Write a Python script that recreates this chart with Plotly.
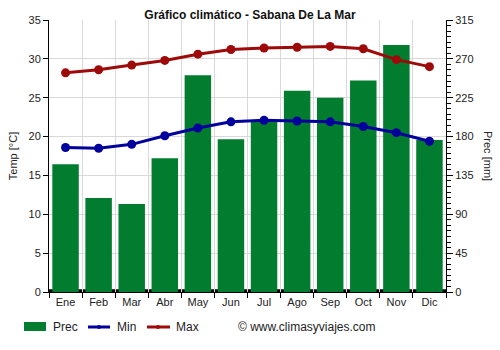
import plotly.graph_objects as go

months = ["Ene", "Feb", "Mar", "Abr", "May", "Jun", "Jul", "Ago", "Sep", "Oct", "Nov", "Dic"]
prec_mm = [148, 109, 102, 155, 251, 177, 198, 233, 225, 245, 286, 176]
temp_min = [18.6, 18.5, 19.0, 20.1, 21.1, 21.9, 22.1, 22.0, 21.9, 21.3, 20.5, 19.4]
temp_max = [28.2, 28.6, 29.2, 29.8, 30.6, 31.2, 31.4, 31.5, 31.6, 31.3, 29.9, 29.0]

GREEN = "#027D30"
BLUE = "#00009C"
RED = "#9E0A0A"
FONT = "Liberation Sans, Arial, sans-serif"

# plot area in pixels (500x350 canvas)
L, R, T, B = 49, 446, 20, 292
W, H = R - L, B - T


def px(x):
    return (x - L) / W


def py(y):
    return (B - y) / H


fig = go.Figure()

# precipitation bars on the primary (right-side) axis so lines sit on top
fig.add_trace(go.Bar(
    x=months, y=prec_mm, name="Prec", marker_color=GREEN,
    marker_line_width=0, width=0.8, yaxis="y",
))
fig.add_trace(go.Scatter(
    x=months, y=temp_min, name="Min", mode="lines+markers",
    line=dict(color=BLUE, width=3), marker=dict(color=BLUE, size=9),
    yaxis="y2",
))
fig.add_trace(go.Scatter(
    x=months, y=temp_max, name="Max", mode="lines+markers",
    line=dict(color=RED, width=3), marker=dict(color=RED, size=9),
    yaxis="y2",
))

shapes = [
    # dark strip along the baseline, visible between the bars
    dict(type="rect", xref="paper", yref="y domain", x0=0, x1=1, y0=0, y1=0.01,
         fillcolor="black", line_width=0, layer="below"),
    # legend keys
    dict(type="rect", xref="paper", yref="paper", x0=px(24), x1=px(46),
         y0=py(331), y1=py(322), fillcolor=GREEN, line_width=0),
    dict(type="line", xref="paper", yref="paper", x0=px(88), x1=px(110),
         y0=py(327), y1=py(327), line=dict(color=BLUE, width=3)),
    dict(type="circle", xref="paper", yref="paper", x0=px(97), x1=px(101),
         y0=py(329), y1=py(325), fillcolor=BLUE, line_width=0),
    dict(type="line", xref="paper", yref="paper", x0=px(147), x1=px(170),
         y0=py(327), y1=py(327), line=dict(color=RED, width=3)),
    dict(type="circle", xref="paper", yref="paper", x0=px(156), x1=px(160),
         y0=py(329), y1=py(325), fillcolor=RED, line_width=0),
]

legend_labels = [("Prec", 51), ("Min", 115), ("Max", 174)]
annotations = [
    dict(text=t, xref="paper", yref="paper", x=px(x0), y=py(327),
         showarrow=False, xanchor="left", yanchor="middle",
         font=dict(size=12, color="#222"))
    for t, x0 in legend_labels
]
annotations += [
    dict(text="Prec [mm]", textangle=90, xref="paper", yref="paper",
         x=px(488), y=0.5, showarrow=False, font=dict(size=11, color="#222"),
         xanchor="center", yanchor="middle"),
    dict(text="© www.climasyviajes.com", xref="paper", yref="paper",
         x=px(236), y=py(327), showarrow=False, xanchor="left",
         yanchor="middle", font=dict(size=12, color="#222")),
]

fig.update_layout(
    width=500, height=350,
    margin=dict(l=L, r=500 - R, t=T, b=350 - B, autoexpand=False),
    paper_bgcolor="white", plot_bgcolor="white",
    font=dict(family=FONT, size=11, color="#222"),
    title=dict(text="<b>Gráfico climático - Sabana De La Mar</b>",
               x=0.5, xref="container", y=0.958, yref="container",
               yanchor="middle",
               font=dict(size=12, color="#111")),
    showlegend=False,
    shapes=shapes,
    annotations=annotations,
    xaxis=dict(
        type="category", showline=True, linecolor="black", linewidth=1,
        ticks="outside", tickson="boundaries", ticklen=5, tickcolor="black",
        showgrid=True, gridcolor="#d9d9d9", gridwidth=1,
        tickfont=dict(size=11), range=[-0.5, 11.5],
    ),
    yaxis=dict(
        side="right", range=[0, 315], dtick=45, tick0=0,
        showline=True, linecolor="black", linewidth=1,
        ticks="outside", ticklen=6, tickcolor="black",
        minor=dict(dtick=45 / 7, ticks="outside", ticklen=4, tickcolor="black",
                   showgrid=False),
        showgrid=True, gridcolor="#d9d9d9", gridwidth=1,
        zeroline=False, tickfont=dict(size=11),
    ),
    yaxis2=dict(
        side="left", overlaying="y", range=[0, 35], dtick=5, tick0=0,
        showline=True, linecolor="black", linewidth=1,
        ticks="outside", ticklen=5, tickcolor="black",
        showgrid=False, zeroline=False,
        title=dict(text="Temp [°C]", font=dict(size=11), standoff=8),
        tickfont=dict(size=11),
    ),
)

fig.write_html("out.html")
